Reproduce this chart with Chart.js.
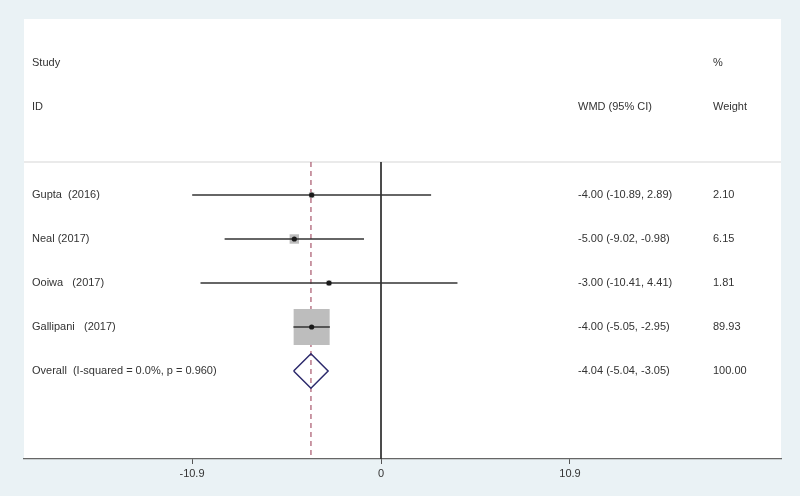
<!DOCTYPE html>
<html>
<head>
<meta charset="utf-8">
<script src="https://cdn.jsdelivr.net/npm/chart.js@4/dist/chart.umd.min.js"></script>
<style>
  body { margin: 0; background: #eaf2f5; }
  canvas { display: block; }
</style>
</head>
<body>
<canvas id="forest" width="800" height="496"></canvas>
<script>
// study data
const studies = ["Gupta  (2016)", "Neal (2017)", "Ooiwa   (2017)", "Gallipani   (2017)"];
const wmd = [-4.00, -5.00, -3.00, -4.00];
const ciLow = [-10.89, -9.02, -10.41, -5.05];
const ciHigh = [2.89, -0.98, 4.41, -2.95];
const weights = [2.10, 6.15, 1.81, 89.93];

// pooled estimate
const overallEst = [-4.04];
const overallCI = [-5.04, -3.05];
const overallWeight = [100.00];
const iSquared = [0.0];
const pHet = [0.960];

const tickVals = [-10.9, 0, 10.9];

// axis range so the ticks sit where the original has them
const xMin = -20.59;
const xMax = 23.07;

const rows = studies.map((s, i) => i + 1); // row 1..4, overall on row 5
const overallRow = studies.length + 1;

let datasets = [];

// centre dots
datasets.push({
  data: wmd.map((v, i) => ({ x: v, y: rows[i] })),
  pointRadius: 2.6,
  pointBackgroundColor: "#1a1a1a",
  pointBorderWidth: 0,
  order: 0
});

// confidence interval lines
studies.forEach((s, i) => {
  datasets.push({
    data: [{ x: ciLow[i], y: rows[i] }, { x: ciHigh[i], y: rows[i] }],
    showLine: true,
    borderColor: "#333333",
    borderWidth: 1.4,
    pointRadius: 0,
    order: 1
  });
});

// weight squares (area ~ weight)
let maxW = Math.max(...weights);
datasets.push({
  data: wmd.map((v, i) => ({ x: v, y: rows[i] })),
  pointStyle: "rect",
  pointRadius: weights.map(w => 36 * Math.sqrt(w / maxW) / (2 * Math.SQRT1_2)),
  pointBackgroundColor: "#bdbdbd",
  pointBorderWidth: 0,
  order: 2
});

// overall diamond
let h = 0.39;
datasets.push({
  data: [
    { x: overallCI[0], y: overallRow },
    { x: overallEst[0], y: overallRow - h },
    { x: overallCI[1], y: overallRow },
    { x: overallEst[0], y: overallRow + h },
    { x: overallCI[0], y: overallRow }
  ],
  showLine: true,
  borderColor: "#2c2a6c",
  borderWidth: 1.5,
  pointRadius: 0,
  order: 3
});

// dashed line at the pooled estimate
datasets.push({
  data: [{ x: overallEst[0], y: 0.25 }, { x: overallEst[0], y: 7 }],
  showLine: true,
  borderColor: "#a8566c",
  borderWidth: 1.2,
  borderDash: [5, 4],
  pointRadius: 0,
  order: 4
});

// line of no effect
datasets.push({
  data: [{ x: 0, y: 0.25 }, { x: 0, y: 7 }],
  showLine: true,
  borderColor: "#333333",
  borderWidth: 1,
  pointRadius: 0,
  order: 5
});

// header separator
datasets.push({
  data: [{ x: xMin, y: 0.25 }, { x: xMax, y: 0.25 }],
  showLine: true,
  borderColor: "#d6d6d6",
  borderWidth: 1.2,
  pointRadius: 0,
  order: 6
});

const panelBg = {
  id: "panelBg",
  beforeDraw(chart) {
    let ctx = chart.ctx, a = chart.chartArea;
    ctx.save();
    ctx.fillStyle = "#eaf2f5";
    ctx.fillRect(0, 0, chart.width, chart.height);
    ctx.fillStyle = "#ffffff";
    ctx.fillRect(a.left, a.top, a.right - a.left, a.bottom - a.top);
    ctx.restore();
  }
};

const textCols = {
  id: "textCols",
  afterDraw(chart) {
    let ctx = chart.ctx, a = chart.chartArea, y = chart.scales.y;
    let xLabel = a.left + 8, xCI = 578, xW = 713;
    ctx.save();
    ctx.font = "11px 'Liberation Sans', Arial, sans-serif";
    ctx.fillStyle = "#333333";
    ctx.textBaseline = "middle";
    ctx.textAlign = "left";

    ctx.fillText("Study", xLabel, y.getPixelForValue(-2));
    ctx.fillText("ID", xLabel, y.getPixelForValue(-1));
    ctx.fillText("%", xW, y.getPixelForValue(-2));
    ctx.fillText("WMD (95% CI)", xCI, y.getPixelForValue(-1));
    ctx.fillText("Weight", xW, y.getPixelForValue(-1));

    studies.forEach((s, i) => {
      let py = y.getPixelForValue(rows[i]);
      ctx.fillText(s, xLabel, py);
      ctx.fillText(wmd[i].toFixed(2) + " (" + ciLow[i].toFixed(2) + ", " + ciHigh[i].toFixed(2) + ")", xCI, py);
      ctx.fillText(weights[i].toFixed(2), xW, py);
    });

    let py = y.getPixelForValue(overallRow);
    ctx.fillText("Overall  (I-squared = " + iSquared[0].toFixed(1) + "%, p = " + pHet[0].toFixed(3) + ")", xLabel, py);
    ctx.fillText(overallEst[0].toFixed(2) + " (" + overallCI[0].toFixed(2) + ", " + overallCI[1].toFixed(2) + ")", xCI, py);
    ctx.fillText(overallWeight[0].toFixed(2), xW, py);
    ctx.restore();
  }
};

new Chart(document.getElementById("forest"), {
  type: "scatter",
  data: { datasets },
  plugins: [panelBg, textCols],
  options: {
    responsive: false,
    animation: false,
    events: [],
    clip: false,
    layout: { autoPadding: false, padding: { left: 24, right: 19, top: 19, bottom: 0 } },
    plugins: { legend: { display: false }, tooltip: { enabled: false } },
    scales: {
      x: {
        type: "linear",
        min: xMin,
        max: xMax,
        afterBuildTicks: scale => { scale.ticks = tickVals.map(v => ({ value: v })); },
        afterFit: scale => { scale.height = 37; },
        ticks: {
          callback: v => String(v),
          color: "#333333",
          font: { family: "'Liberation Sans', Arial, sans-serif", size: 11 },
          padding: 3
        },
        grid: { drawOnChartArea: false, tickLength: 5, color: "#555555", tickWidth: 1 },
        border: { color: "#666666", width: 1.2 }
      },
      y: {
        type: "linear",
        min: -3,
        max: 7,
        reverse: true,
        display: false
      }
    }
  }
});
</script>
</body>
</html>
